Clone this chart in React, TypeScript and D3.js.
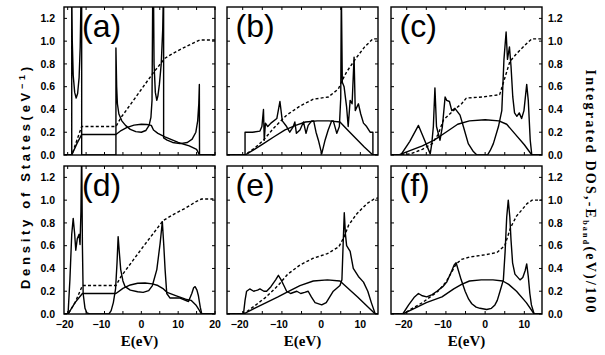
import React from 'react';
import * as d3 from 'd3';

type Pt = [number, number];

// panel geometry
const W = 151;
const H = 148;
const colX = [64, 227, 391];
const rowY = [7, 166];

const yMax = 1.3;
const yTicks = [0, 0.2, 0.4, 0.6, 0.8, 1.0, 1.2];
const xDomainAD: [number, number] = [-21, 20];
const xDomainOther: [number, number] = [-24, 14.5];
const xLabelsAD = [-20, -10, 0, 10, 20];
const xLabelsOther = [-20, -10, 0, 10];

// (a)
const dosA: Pt[] = [[-21, 0], [-18.9, 0], [-18.9, 1.45], [-18.75, 1.0], [-18.5, 0.7], [-18.1, 0.55], [-17.7, 0.5], [-17.3, 0.54], [-16.9, 0.68], [-16.6, 0.95], [-16.35, 1.45], [-16.2, 1.45], [-16.2, 0], [-6.9, 0], [-6.9, 0.94], [-6.7, 0.6], [-6.5, 0.45], [-6.1, 0.36], [-5.3, 0.3], [-4.3, 0.26], [-3, 0.225], [-1.5, 0.205], [0, 0.2], [1.2, 0.215], [2.1, 0.26], [2.6, 0.33], [2.9, 0.48], [3.1, 1.45], [3.3, 1.45], [3.45, 0.8], [3.8, 0.55], [4.2, 0.48], [4.5, 0.52], [4.9, 0.62], [5.4, 0.8], [5.8, 1.1], [6.0, 1.45], [6.05, 1.45], [6.05, 0.15], [7, 0.13], [8.5, 0.11], [10.5, 0.1], [12.5, 0.11], [13.8, 0.14], [14.8, 0.2], [15.3, 0.3], [15.6, 0.45], [15.75, 0.62], [15.8, 0], [20, 0]];
const idosA: Pt[] = [[-21, 0], [-18.9, 0], [-17.5, 0.13], [-16.2, 0.25], [-6.9, 0.25], [-5.5, 0.33], [-1.7, 0.5], [3.2, 0.72], [6.4, 0.85], [9, 0.9], [12, 0.95], [14.5, 0.99], [15.8, 1.01], [20, 1.01]];
const bandA: Pt[] = [[-21, 0], [-18.9, 0], [-17.5, 0.1], [-16.2, 0.18], [-6.9, 0.18], [-5.5, 0.215], [-4, 0.24], [-2, 0.262], [0, 0.27], [1.5, 0.268], [2.7, 0.26], [3.3, 0.22], [4.5, 0.19], [6.4, 0.16], [10, 0.11], [13, 0.08], [15, 0.05], [15.8, 0], [20, 0]];

// (b)
const dosB: Pt[] = [[-24, 0], [-19.4, 0], [-19.4, 0.2], [-17.5, 0.2], [-15.6, 0.21], [-15.1, 0.25], [-14.7, 0.4], [-14.5, 0.13], [-14.2, 0.28], [-13.6, 0.25], [-12.8, 0.28], [-11.3, 0.32], [-10.5, 0.47], [-9.9, 0.3], [-8.8, 0.25], [-8, 0.2], [-7.1, 0.25], [-6.7, 0.29], [-6.3, 0.19], [-5.4, 0.22], [-4.5, 0.29], [-3.85, 0.19], [-3.3, 0.26], [-2.4, 0.3], [-1.9, 0.3], [-1.3, 0.2], [-0.7, 0.13], [0.15, 0.01], [1, 0.13], [1.8, 0.22], [2.7, 0.3], [3.1, 0.3], [4, 0.19], [4.65, 0.25], [5.0, 0.5], [5.15, 1.45], [5.4, 0.64], [5.85, 0.6], [6.5, 0.42], [6.9, 0.25], [7.4, 0.48], [7.9, 0.45], [8.4, 0.86], [8.7, 0.39], [9.5, 0.45], [10.1, 0.36], [10.8, 0.28], [11.6, 0.25], [12.5, 0.2], [13.2, 0.2], [13.2, 0], [14.5, 0]];
const idosB: Pt[] = [[-24, 0], [-19.4, 0], [-17, 0.06], [-14.7, 0.13], [-12, 0.24], [-8.8, 0.35], [-5.4, 0.43], [-2, 0.49], [1.85, 0.51], [4.4, 0.58], [5.3, 0.65], [6.5, 0.73], [8.9, 0.85], [11.1, 0.95], [13.2, 1.02], [14.5, 1.02]];
const bandB: Pt[] = [[-24, 0], [-19.4, 0], [-17, 0.05], [-14.7, 0.1], [-12, 0.16], [-9.2, 0.22], [-6.5, 0.26], [-4, 0.29], [-1, 0.3], [2, 0.3], [4.8, 0.29], [7, 0.21], [9, 0.14], [11, 0.07], [13.2, 0], [14.5, 0]];

// (c)
const dosC: Pt[] = [[-24, 0], [-21.5, 0], [-19.2, 0.12], [-17, 0.26], [-15.8, 0.16], [-14, 0.01], [-13.6, 0.1], [-13.2, 0.25], [-12.8, 0.59], [-12.4, 0.25], [-11.5, 0.13], [-10.9, 0.25], [-10.2, 0.51], [-9.8, 0.48], [-9.1, 0.47], [-8.5, 0.39], [-7.7, 0.41], [-6.4, 0.35], [-5.55, 0.25], [-4.3, 0.1], [-3, 0.03], [-2.1, 0], [0.6, 0], [1.3, 0.04], [2.1, 0.1], [3.4, 0.25], [4.25, 0.39], [4.8, 0.84], [5.35, 1.08], [5.7, 0.84], [6.2, 0.95], [6.6, 0.78], [7.05, 0.51], [7.5, 0.37], [8.1, 0.34], [8.7, 0.37], [9.3, 0.32], [9.9, 0.39], [10.6, 0.62], [11, 0.48], [11.5, 0.13], [11.9, 0], [14.5, 0]];
const idosC: Pt[] = [[-24, 0], [-21.5, 0], [-19, 0.01], [-16, 0.05], [-13.5, 0.1], [-12, 0.18], [-10.6, 0.31], [-8.1, 0.39], [-6, 0.45], [-4.8, 0.5], [-0.6, 0.51], [3.7, 0.53], [4.6, 0.63], [6.3, 0.82], [8, 0.89], [10.6, 0.98], [11.9, 1.02], [14.5, 1.02]];
const bandC: Pt[] = [[-24, 0], [-22, 0], [-19, 0.04], [-16, 0.08], [-13, 0.13], [-10, 0.2], [-7, 0.27], [-4, 0.3], [0, 0.31], [3.5, 0.3], [5.5, 0.27], [7.5, 0.19], [10, 0.09], [11.9, 0], [14.5, 0]];

// (d)
const dosD: Pt[] = [[-21, 0], [-19.9, 0], [-19.4, 0.3], [-18.9, 0.7], [-18.5, 0.84], [-18.1, 0.7], [-17.8, 0.56], [-17.4, 0.66], [-16.9, 0.7], [-16.65, 0.61], [-16.4, 0.9], [-16.2, 1.45], [-16.0, 0.6], [-15.8, 0.18], [-15.3, 0.05], [-14.8, 0.01], [-14, 0], [-8.8, 0], [-8.2, 0.03], [-7.6, 0.1], [-7.0, 0.22], [-6.6, 0.45], [-6.3, 0.68], [-6.0, 0.55], [-5.6, 0.39], [-5.0, 0.29], [-4.4, 0.24], [-3, 0.21], [-1, 0.195], [0.5, 0.19], [2, 0.205], [3, 0.25], [4.2, 0.39], [5.1, 0.62], [5.7, 0.81], [6.1, 0.6], [6.45, 0.39], [6.9, 0.18], [7.8, 0.14], [10.5, 0.14], [12.8, 0.11], [13.7, 0.18], [14.2, 0.23], [14.6, 0.24], [15.1, 0.21], [15.5, 0.16], [16, 0.06], [16.4, 0], [20, 0]];
const idosD: Pt[] = [[-21, 0], [-19.9, 0], [-18, 0.1], [-16, 0.25], [-6.9, 0.25], [-5.5, 0.33], [0, 0.57], [5.9, 0.82], [9, 0.88], [12, 0.93], [15, 0.99], [16.4, 1.01], [20, 1.01]];
const bandD: Pt[] = [[-21, 0], [-19.9, 0], [-18, 0.1], [-16, 0.18], [-6.9, 0.18], [-5, 0.225], [-3, 0.255], [-1, 0.27], [1, 0.272], [3, 0.265], [4.5, 0.25], [6, 0.22], [7, 0.19], [9.5, 0.16], [12, 0.13], [13.5, 0.12], [14.8, 0.08], [15.8, 0.03], [16.3, 0], [20, 0]];

// (e)
const dosE: Pt[] = [[-24, 0], [-19.8, 0], [-19.4, 0.12], [-19, 0.2], [-18.2, 0.22], [-17.2, 0.2], [-16.2, 0.21], [-15.6, 0.22], [-14.6, 0.2], [-13.9, 0.2], [-12.8, 0.24], [-11.6, 0.3], [-10.9, 0.34], [-10.2, 0.3], [-9.5, 0.25], [-8.8, 0.2], [-7.8, 0.18], [-6.2, 0.2], [-5.2, 0.18], [-4.2, 0.19], [-3.3, 0.2], [-2.5, 0.15], [-1.55, 0.1], [0.15, 0.08], [1.3, 0.1], [2.2, 0.15], [3.1, 0.2], [4.8, 0.25], [5.3, 0.3], [5.6, 0.6], [5.9, 0.89], [6.2, 0.7], [6.5, 0.6], [7.4, 0.55], [8.2, 0.4], [9.5, 0.33], [10.8, 0.28], [11.9, 0.2], [12.8, 0.1], [13.8, 0], [14.5, 0]];
const idosE: Pt[] = [[-24, 0], [-19.8, 0], [-17, 0.07], [-14, 0.15], [-11, 0.25], [-8.5, 0.35], [-5.4, 0.43], [-2, 0.49], [1.6, 0.53], [4.5, 0.59], [5.9, 0.68], [7, 0.78], [9.1, 0.88], [11.7, 0.97], [13.5, 1.01], [14.5, 1.02]];
const bandE: Pt[] = [[-24, 0], [-19.8, 0], [-17, 0.05], [-14, 0.1], [-11, 0.15], [-8.8, 0.19], [-5.4, 0.25], [-2, 0.29], [1.6, 0.3], [4.8, 0.29], [9.3, 0.15], [13.8, 0], [14.5, 0]];

// (f)
const dosF: Pt[] = [[-24, 0], [-21, 0], [-19.5, 0.08], [-18, 0.15], [-17, 0.18], [-16, 0.16], [-14.9, 0.15], [-13.5, 0.17], [-12.3, 0.2], [-10.8, 0.24], [-9.8, 0.28], [-8.5, 0.38], [-7.9, 0.43], [-7.4, 0.45], [-6.8, 0.38], [-6.1, 0.3], [-5.1, 0.2], [-4.2, 0.13], [-3.4, 0.09], [-2.3, 0.06], [-1.3, 0.05], [0.4, 0.04], [1.6, 0.05], [2.5, 0.08], [3.1, 0.12], [3.8, 0.2], [4.65, 0.3], [5.1, 0.55], [5.5, 0.85], [5.9, 1.0], [6.3, 0.85], [6.6, 0.65], [7, 0.45], [7.6, 0.35], [8.9, 0.3], [9.6, 0.32], [10.2, 0.38], [10.6, 0.44], [11, 0.33], [11.4, 0.18], [11.8, 0.08], [12.5, 0], [14.5, 0]];
const idosF: Pt[] = [[-24, 0], [-21, 0], [-18, 0.06], [-16, 0.1], [-12, 0.2], [-10, 0.28], [-8.5, 0.37], [-7.4, 0.44], [-6, 0.48], [-4, 0.5], [0, 0.52], [3, 0.54], [5, 0.6], [6.5, 0.76], [8, 0.86], [9.5, 0.92], [10.7, 0.97], [12, 1.0], [14.5, 1.0]];
const bandF: Pt[] = [[-24, 0], [-21, 0], [-18, 0.05], [-15, 0.1], [-11, 0.15], [-8, 0.22], [-6, 0.26], [-4, 0.29], [-1, 0.3], [2, 0.3], [4.5, 0.29], [6, 0.26], [8, 0.2], [10.5, 0.1], [12.5, 0], [14.5, 0]];

const panels = [
  { label: '(a)', col: 0, row: 0, domain: xDomainAD, xLabels: xLabelsAD, dos: dosA, idos: idosA, band: bandA },
  { label: '(b)', col: 1, row: 0, domain: xDomainOther, xLabels: xLabelsOther, dos: dosB, idos: idosB, band: bandB },
  { label: '(c)', col: 2, row: 0, domain: xDomainOther, xLabels: xLabelsOther, dos: dosC, idos: idosC, band: bandC },
  { label: '(d)', col: 0, row: 1, domain: xDomainAD, xLabels: xLabelsAD, dos: dosD, idos: idosD, band: bandD },
  { label: '(e)', col: 1, row: 1, domain: xDomainOther, xLabels: xLabelsOther, dos: dosE, idos: idosE, band: bandE },
  { label: '(f)', col: 2, row: 1, domain: xDomainOther, xLabels: xLabelsOther, dos: dosF, idos: idosF, band: bandF },
];

const sans = '"Liberation Sans", Arial, Helvetica, sans-serif';
const serif = '"Liberation Serif", "Times New Roman", serif';

const Panel = ({ p, i }: { p: typeof panels[number]; i: number }) => {
  const x = d3.scaleLinear().domain(p.domain).range([0, W]);
  const y = d3.scaleLinear().domain([0, yMax]).range([H, 0]);
  const line = d3.line<Pt>().x(d => x(d[0])).y(d => y(d[1]));
  const xTicks = d3.range(Math.ceil(p.domain[0] / 5) * 5, p.domain[1] + 1e-6, 5);
  const clipId = `clip-${i}`;
  const tick = 3;

  return (
    <g transform={`translate(${colX[p.col]},${rowY[p.row]})`}>
      <defs>
        <clipPath id={clipId}>
          <rect width={W} height={H} />
        </clipPath>
      </defs>
      <g clipPath={`url(#${clipId})`} fill="none" stroke="#000" strokeLinejoin="round">
        <path d={line(p.band) || ''} strokeWidth={1.4} />
        <path d={line(p.idos) || ''} strokeWidth={1.4} strokeDasharray="3,2.2" />
        <path d={line(p.dos) || ''} strokeWidth={1.4} />
      </g>
      <rect width={W} height={H} fill="none" stroke="#000" strokeWidth={1.4} />
      <g stroke="#000" strokeWidth={1}>
        {yTicks.map(t => (
          <g key={t}>
            <line x1={0} x2={tick} y1={y(t)} y2={y(t)} />
            <line x1={W - tick} x2={W} y1={y(t)} y2={y(t)} />
          </g>
        ))}
        {xTicks.map(t => (
          <g key={t}>
            <line x1={x(t)} x2={x(t)} y1={0} y2={tick} />
            <line x1={x(t)} x2={x(t)} y1={H - tick} y2={H} />
          </g>
        ))}
      </g>
      <g fontFamily={sans} fontWeight="bold" fontSize={10.5} fill="#000">
        {p.col === 0 && yTicks.map(t => (
          <text key={t} x={-9} y={y(t)} dy="0.35em" textAnchor="end">{t.toFixed(1)}</text>
        ))}
        {p.col === 2 && yTicks.map(t => (
          <text key={t} x={W + 6} y={y(t)} dy="0.35em" textAnchor="start">{t.toFixed(1)}</text>
        ))}
        {p.row === 1 && p.xLabels.map(t => (
          <text key={t} x={x(t)} y={H + 14} dx={t < 0 ? -3 : 0} textAnchor="middle">
            {t < 0 ? `\u2212${-t}` : `${t}`}
          </text>
        ))}
      </g>
      {p.row === 1 && (
        <text x={W / 2} y={H + 32} textAnchor="middle" fontFamily={serif} fontWeight="bold" fontSize={15}>
          E(eV)
        </text>
      )}
      <text x={p.col === 0 ? 18 : 8.5} y={30} fontFamily={sans} fontSize={32}>
        {p.label}
      </text>
    </g>
  );
};

const App = () => {
  return (
    <svg width={605} height={355} style={{ position: 'absolute', left: 0, top: 0, background: '#fff' }}>
      {panels.map((p, i) => <Panel key={p.label} p={p} i={i} />)}
      <text
        transform="translate(30,178) rotate(-90)"
        textAnchor="middle"
        fontFamily={sans}
        fontWeight="bold"
        fontSize={13}
        textLength={222}
        lengthAdjust="spacing"
      >
        Density of States(eV<tspan dy={-5} fontSize={9}>{'\u22121'}</tspan><tspan dy={5}>)</tspan>
      </text>
      <text
        transform="translate(586,191) rotate(90)"
        textAnchor="middle"
        fontFamily={serif}
        fontWeight="bold"
        fontSize={14}
        textLength={243}
        lengthAdjust="spacing"
      >
        Integrated DOS,-E<tspan dy={3} fontSize={8}>band</tspan><tspan dy={-3}>(eV)/100</tspan>
      </text>
    </svg>
  );
};

export default App;
